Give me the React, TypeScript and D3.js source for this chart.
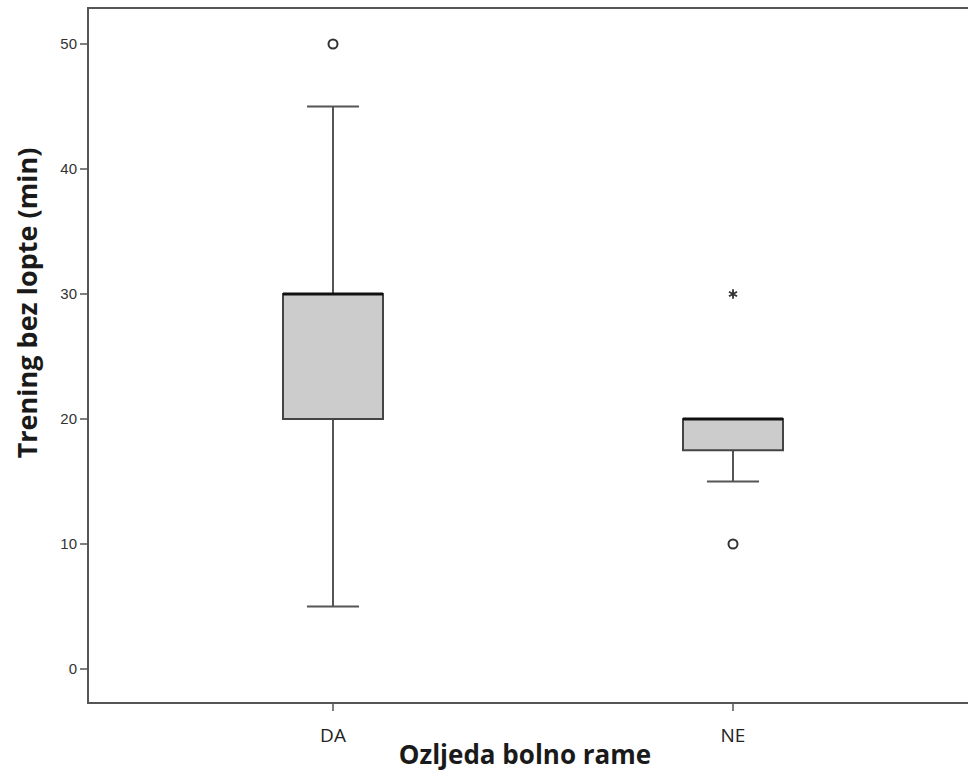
import React from "react";
import * as d3 from "d3";

const categories = ["DA", "NE"];
const q1 = [20, 17.5];
const median = [30, 20];
const q3 = [30, 20];
const whiskerLow = [5, 15];
const whiskerHigh = [45, 20];
const circleOutliers = [[50], [10]];
const starOutliers = [[], [30]];
const yTicks = [0, 10, 20, 30, 40, 50];

const W = 968, H = 771;
const left = 88, top = 8, bottom = 703, right = 1178;

export default function App() {
  const y = d3.scaleLinear().domain([0, 50]).range([669, 44]);
  const x = d3.scalePoint().domain(categories).range([333, 733]);
  const boxW = 100, capW = 52;
  const lineCol = "#555";
  return (
    <svg width={W} height={H} style={{ position: "absolute", left: 0, top: 0, background: "#fff" }}>
      <path d={`M${right},${top}H${left}V${bottom}H${right}`} fill="none" stroke="#555" strokeWidth={2} />
      {yTicks.map(t => (
        <g key={t}>
          <line x1={left - 8} x2={left} y1={y(t)} y2={y(t)} stroke="#555" strokeWidth={1.5} />
          <text x={left - 11} y={y(t)} dy="0.36em" textAnchor="end" fontFamily="Arial, Liberation Sans" fontSize={15} fill="#333">{t}</text>
        </g>
      ))}
      {categories.map(c => (
        <g key={c}>
          <line x1={x(c)} x2={x(c)} y1={bottom} y2={bottom + 8} stroke="#555" strokeWidth={1.5} />
          <text x={x(c)} y={742} textAnchor="middle" fontFamily="Open Sans, Arial" fontSize={19} fill="#222">{c}</text>
        </g>
      ))}
      {categories.map((c, i) => {
        const cx = x(c)!;
        return (
          <g key={"b" + c}>
            <line x1={cx} x2={cx} y1={y(whiskerHigh[i])} y2={y(q3[i])} stroke={lineCol} strokeWidth={2} />
            <line x1={cx} x2={cx} y1={y(q1[i])} y2={y(whiskerLow[i])} stroke={lineCol} strokeWidth={2} />
            <line x1={cx - capW / 2} x2={cx + capW / 2} y1={y(whiskerHigh[i])} y2={y(whiskerHigh[i])} stroke={lineCol} strokeWidth={2} />
            <line x1={cx - capW / 2} x2={cx + capW / 2} y1={y(whiskerLow[i])} y2={y(whiskerLow[i])} stroke={lineCol} strokeWidth={2} />
            <rect x={cx - boxW / 2} y={y(q3[i])} width={boxW} height={y(q1[i]) - y(q3[i])} fill="#cccccc" stroke="#444" strokeWidth={2} />
            <line x1={cx - boxW / 2} x2={cx + boxW / 2} y1={y(median[i])} y2={y(median[i])} stroke="#111" strokeWidth={3} />
            {circleOutliers[i].map((v, j) => (
              <circle key={j} cx={cx} cy={y(v)} r={4.5} fill="#fff" stroke="#333" strokeWidth={2} />
            ))}
            {starOutliers[i].map((v, j) => (
              <path key={j} d={d3.symbol().type(d3.symbolAsterisk).size(60)()!} transform={`translate(${cx},${y(v)})`} fill="none" stroke="#333" strokeWidth={1.8} />
            ))}
          </g>
        );
      })}
      <text x={525} y={764} textAnchor="middle" fontFamily="Open Sans, Arial" fontWeight="bold" fontSize={26} fill="#1a1a1a">Ozljeda bolno rame</text>
      <text transform={`translate(37,303) rotate(-90)`} textAnchor="middle" fontFamily="Open Sans, Arial" fontWeight="bold" fontSize={27} fill="#1a1a1a">Trening bez lopte (min)</text>
    </svg>
  );
}
